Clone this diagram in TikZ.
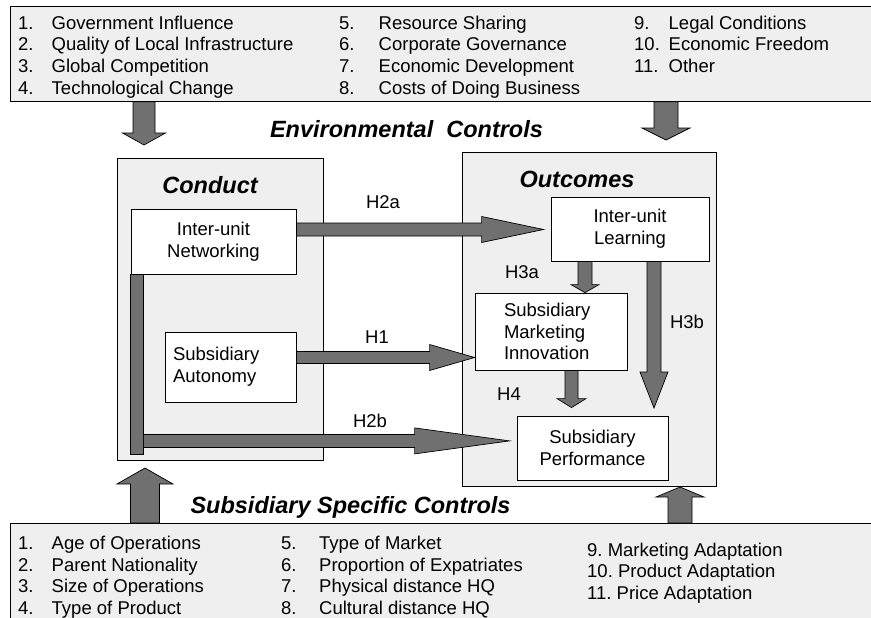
\documentclass[tikz,border=0pt]{standalone}
\usepackage{fontspec}
\setmainfont{Liberation Sans}
\usetikzlibrary{calc}
\definecolor{panel}{HTML}{EFEFEF}
\definecolor{arrowgray}{HTML}{707070}
\tikzset{
  panelbox/.style={draw=black, line width=0.8pt, fill=panel, inner sep=0pt},
  whitebox/.style={draw=black, line width=0.8pt, fill=white, inner sep=0pt,
    font=\fontsize{18.5}{21.6}\selectfont},
  fatarrow/.style={draw=black, line width=0.7pt, fill=arrowgray, line join=miter},
  listtxt/.style={inner sep=0pt, font=\fontsize{18.5}{21.6}\selectfont},
  titletxt/.style={inner sep=0pt, font=\fontsize{23.5}{26}\selectfont\bfseries\itshape},
  hlabel/.style={inner sep=0pt, font=\fontsize{18.5}{21.6}\selectfont},
}
% horizontal block arrow: start, tip (y from start), half shaft, half head, head length
\newcommand\hfat[5]{%
  \draw[fatarrow] let \p1=#1, \p2=#2 in
    (\x1,\y1+#3) -- (\x2-#5,\y1+#3) -- (\x2-#5,\y1+#4) -- (\x2,\y1)
    -- (\x2-#5,\y1-#4) -- (\x2-#5,\y1-#3) -- (\x1,\y1-#3) -- cycle;}
% downward block arrow: start, tip (x from start)
\newcommand\dfat[5]{%
  \draw[fatarrow] let \p1=#1, \p2=#2 in
    (\x1-#3,\y1) -- (\x1-#3,\y2+#5) -- (\x1-#4,\y2+#5) -- (\x1,\y2)
    -- (\x1+#4,\y2+#5) -- (\x1+#3,\y2+#5) -- (\x1+#3,\y1) -- cycle;}
% upward block arrow
\newcommand\ufat[5]{%
  \draw[fatarrow] let \p1=#1, \p2=#2 in
    (\x1-#3,\y1) -- (\x1-#3,\y2-#5) -- (\x1-#4,\y2-#5) -- (\x1,\y2)
    -- (\x1+#4,\y2-#5) -- (\x1+#3,\y2-#5) -- (\x1+#3,\y1) -- cycle;}
\begin{document}
\begin{tikzpicture}[x=1pt,y=-1pt]
\useasboundingbox (0,0) rectangle (871,618);
\clip (0,0) rectangle (871,618);
\fill[white] (0,0) rectangle (871,618);

% panels
\node[panelbox, anchor=north west, minimum width=870pt, minimum height=95pt] (topbox) at (10,6) {};
\node[panelbox, anchor=north west, minimum width=870pt, minimum height=110pt] (botbox) at (10,523) {};
\node[panelbox, anchor=north west, minimum width=206pt, minimum height=302pt] (conduct) at (117,158) {};
\node[panelbox, anchor=north west, minimum width=254pt, minimum height=334pt] (outcomes) at (462,152) {};

% top list
\foreach \t [count=\i] in {Government Influence, Quality of Local Infrastructure, Global Competition, Technological Change} {
  \node[listtxt, anchor=base west] (tan\i) at ({18},{29.3+21.6*(\i-1)}) {\i.};
  \node[listtxt, anchor=base west] (tat\i) at ({51.5},{29.3+21.6*(\i-1)}) {\t};
}
\foreach \n/\t [count=\i] in {5/Resource Sharing, 6/Corporate Governance, 7/Economic Development, 8/Costs of Doing Business} {
  \node[listtxt, anchor=base west] (tbn\i) at ({339},{29.3+21.6*(\i-1)}) {\n.};
  \node[listtxt, anchor=base west] (tbt\i) at ({378.5},{29.3+21.6*(\i-1)}) {\t};
}
\foreach \n/\t [count=\i] in {9/Legal Conditions, 10/Economic Freedom, 11/Other} {
  \node[listtxt, anchor=base west] (tcn\i) at ({634},{29.3+21.6*(\i-1)}) {\n.};
  \node[listtxt, anchor=base west] (tct\i) at ({668.5},{29.3+21.6*(\i-1)}) {\t};
}

% bottom list
\foreach \t [count=\i] in {Age of Operations, Parent Nationality, Size of Operations, Type of Product} {
  \node[listtxt, anchor=base west] (ban\i) at ({18},{549.6+21.6*(\i-1)}) {\i.};
  \node[listtxt, anchor=base west] (bat\i) at ({51.5},{549.6+21.6*(\i-1)}) {\t};
}
\foreach \n/\t [count=\i] in {5/Type of Market, 6/Proportion of Expatriates, 7/Physical distance HQ, 8/Cultural distance HQ} {
  \node[listtxt, anchor=base west] (bbn\i) at ({281},{549.6+21.6*(\i-1)}) {\n.};
  \node[listtxt, anchor=base west] (bbt\i) at ({319},{549.6+21.6*(\i-1)}) {\t};
}
\foreach \n/\t [count=\i] in {9/Marketing Adaptation, 10/Product Adaptation, 11/Price Adaptation} {
  \node[listtxt, anchor=base west] (bct\i) at ({587},{556+21.6*(\i-1)}) {\n.~\t};
}

% titles
\node[titletxt, anchor=base] (envtitle) at (406.5,138) {Environmental\ \ Controls};
\node[titletxt, anchor=base] (subtitle) at (350.5,513.4) {Subsidiary Specific Controls};
\node[titletxt, anchor=base] (conducttitle) at (210,193.4) {Conduct};
\node[titletxt, anchor=base] (outtitle) at (577,187.4) {Outcomes};

% inner boxes
\node[whitebox, minimum width=165pt, minimum height=65pt, align=center] (net) at (213.5,241.5) {Inter-unit\\Networking};
\node[whitebox, minimum width=131pt, minimum height=70pt, inner xsep=8pt, text width=115pt, align=left] (auto) at (230.5,367) {Subsidiary\\Autonomy};
\node[whitebox, minimum width=158pt, minimum height=64pt, align=center] (learn) at (630,229) {Inter-unit\\Learning};
\node[whitebox, minimum width=152pt, minimum height=77pt, inner xsep=29pt, text width=94pt, align=left] (innov) at (551,331.5) {Subsidiary\\Marketing\\Innovation};
\node[whitebox, minimum width=151pt, minimum height=64pt, align=center] (perf) at (592.5,448) {Subsidiary\\Performance};

% helper coordinates for arrow axes
\coordinate (yH2a) at (0,229.5);
\coordinate (yH1) at (0,357.5);
\coordinate (yH2b) at (0,447.5);
\coordinate (xH3a) at (585,0);
\coordinate (xH3b) at (654,0);
\coordinate (xH4) at (571.5,0);
\coordinate (xTL) at (144,0);
\coordinate (xTR) at (666,0);
\coordinate (xBL) at (145,0);
\coordinate (xBR) at (680,0);
\coordinate (tTL) at (0,145);
\coordinate (tTR) at (0,140);
\coordinate (tBL) at (0,468);
\coordinate (tBR) at (0,487);
\coordinate (tH3b) at (0,408);

% arrows between boxes
\hfat{(net.east |- yH2a)}{($(learn.west |- yH2a)+(-7,0)$)}{6.5pt}{13pt}{62pt}
\hfat{(auto.east |- yH1)}{(innov.west |- yH1)}{6pt}{13pt}{45pt}
\draw[fatarrow] (net.south west) rectangle ($(net.south west)+(13,180)$);
\coordinate (h2bstart) at ($(net.south west)+(13,166.5)$);
\hfat{(h2bstart)}{($(perf.west |- yH2b)+(-7,0)$)}{6.5pt}{13pt}{95pt}
\dfat{(learn.south -| xH3a)}{(innov.north -| xH3a)}{7pt}{14pt}{8pt}
\dfat{(learn.south -| xH3b)}{(xH3b |- tH3b)}{7pt}{14pt}{36pt}
\dfat{(innov.south -| xH4)}{($(perf.north -| xH4)+(0,-8)$)}{6.5pt}{14.5pt}{9pt}

% control arrows
\dfat{(topbox.south -| xTL)}{(xTL |- tTL)}{11pt}{21.5pt}{12pt}
\dfat{(topbox.south -| xTR)}{(xTR |- tTR)}{12pt}{24pt}{12pt}
\ufat{(botbox.north -| xBL)}{(xBL |- tBL)}{14.5pt}{28pt}{16pt}
\ufat{(botbox.north -| xBR)}{(xBR |- tBR)}{12pt}{24pt}{10pt}

% labels
\node[hlabel] (lH2a) at (383,202) {H2a};
\node[hlabel] (lH1) at (377,337) {H1};
\node[hlabel] (lH2b) at (370,421) {H2b};
\node[hlabel] (lH3a) at (522,272) {H3a};
\node[hlabel] (lH3b) at (687,322) {H3b};
\node[hlabel] (lH4) at (509,394) {H4};
\end{tikzpicture}
\end{document}
